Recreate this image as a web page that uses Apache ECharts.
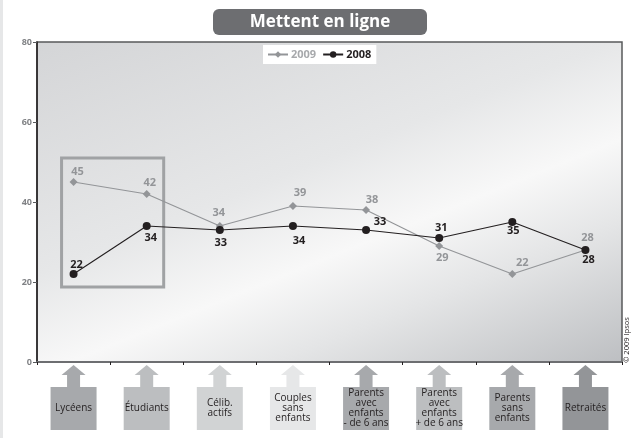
<!DOCTYPE html>
<html>
<head>
<meta charset="utf-8">
<script src="https://cdn.jsdelivr.net/npm/echarts@6/dist/echarts.min.js"></script>
<style>
  html, body { margin: 0; padding: 0; background: #ffffff; }
  #chart { width: 634px; height: 438px; }
</style>
</head>
<body>
<div id="chart"></div>
<script>
// Audience groups (x axis) and the share of each group, per year
const categories = [
  'Lycéens',
  'Étudiants',
  'Célib.\nactifs',
  'Couples\nsans\nenfants',
  'Parents\navec\nenfants\n- de 6 ans',
  'Parents\navec\nenfants\n+ de 6 ans',
  'Parents\nsans\nenfants',
  'Retraités'
];
const values2009 = [45, 42, 34, 39, 38, 29, 22, 28];
const values2008 = [22, 34, 33, 34, 33, 31, 35, 28];
const yTicks = [0, 20, 40, 60, 80];

// Label nudges around each marker, in pixels
const offsets2009 = [[4, -10], [3, -11], [-1, -13], [7, -13], [6, -10], [3, 12], [10, -11], [2, -12]];
const offsets2008 = [[3, -9], [4, 12], [1, 13], [6, 15], [14, -8], [2, -10], [1, 9], [3, 10]];
// Shade of each group's box underneath the axis
const boxColors = ['#a7a9ac', '#bcbec0', '#d1d3d4', '#e6e7e8', '#a7a9ac', '#bcbec0', '#a7a9ac', '#939598'];

const FONT = '"Open Sans", "Noto Sans", sans-serif';
const GREY = '#939598';
const INK = '#231f20';

function points(vals, offs, color) {
  return vals.map((v, i) => ({
    value: v,
    label: {
      show: true,
      position: 'inside',
      offset: offs[i],
      color: color,
      fontFamily: FONT,
      fontWeight: 'bold',
      fontSize: 11
    }
  }));
}

// Arrow + box + caption drawn under each category
function renderGroupBox(params, api) {
  const i = api.value(0);
  const base = api.coord([i, 0]);
  const cx = base[0];
  const ay = base[1];
  const col = boxColors[i];
  const top = ay + 3;
  const head = ay + 13;
  const boxTop = ay + 25;
  return {
    type: 'group',
    silent: true,
    children: [
      {
        type: 'polygon',
        shape: { points: [[cx, top], [cx + 12, head], [cx + 6.5, head], [cx + 6.5, boxTop], [cx - 6.5, boxTop], [cx - 6.5, head], [cx - 12, head]] },
        style: { fill: col }
      },
      {
        type: 'rect',
        shape: { x: cx - 23, y: boxTop, width: 46, height: 43 },
        style: { fill: col }
      },
      {
        type: 'text',
        x: cx, y: boxTop + 21.5,
        style: {
          text: categories[i], fill: INK, font: '10px ' + FONT, lineHeight: 10,
          align: 'center', verticalAlign: 'middle'
        }
      }
    ]
  };
}

const chart = echarts.init(document.getElementById('chart'), null, { renderer: 'canvas' });

const option = {
  animation: false,
  backgroundColor: '#ffffff',
  grid: {
    left: 37, right: 12, top: 42, bottom: 76,
    show: true,
    borderColor: '#58595b',
    borderWidth: 1.5,
    backgroundColor: {
      type: 'linear', x: 0, y: 0, x2: 0.33, y2: 1.49,
      colorStops: [
        { offset: 0, color: '#d4d5d7' },
        { offset: 0.42, color: '#e6e7e8' },
        { offset: 0.6, color: '#f8f8f8' },
        { offset: 0.75, color: '#e4e5e6' },
        { offset: 1, color: '#bdbfc2' }
      ]
    }
  },
  legend: {
    left: 263, top: 45,
    backgroundColor: '#ffffff',
    padding: [4, 5, 4, 4],
    itemWidth: 20, itemHeight: 8, itemGap: 6,
    textStyle: { fontFamily: FONT, fontSize: 11, fontWeight: 'bold', padding: [0, 0, 0, -2] },
    data: [
      { name: '2009', textStyle: { color: '#a7a9ac' } },
      { name: '2008', textStyle: { color: INK } }
    ]
  },
  xAxis: {
    type: 'category',
    data: categories,
    boundaryGap: true,
    axisLine: { show: true, lineStyle: { color: '#6d6e71', width: 2 } },
    axisTick: { show: true, length: 3, interval: 0, lineStyle: { color: INK, width: 1 } },
    axisLabel: { show: false },
    splitLine: { show: false }
  },
  yAxis: {
    type: 'value',
    min: yTicks[0], max: yTicks[yTicks.length - 1], interval: 20,
    axisLine: { show: true, lineStyle: { color: INK, width: 1.5 } },
    axisTick: { show: true, length: 4, lineStyle: { color: '#58595b' } },
    axisLabel: { color: '#808285', fontFamily: FONT, fontSize: 9, fontWeight: 'bold', margin: 5 },
    splitLine: { show: false }
  },
  series: [
    {
      name: '2009',
      type: 'line',
      data: points(values2009, offsets2009, GREY),
      symbol: 'diamond',
      symbolSize: 8,
      itemStyle: { color: GREY },
      lineStyle: { color: GREY, width: 1.1 },
      z: 2
    },
    {
      name: '2008',
      type: 'line',
      data: points(values2008, offsets2008, INK),
      symbol: 'circle',
      symbolSize: 8,
      itemStyle: { color: INK },
      lineStyle: { color: INK, width: 1.1 },
      z: 3
    },
    {
      name: 'groups',
      type: 'custom',
      data: categories.map((c, i) => [i]),
      encode: { x: 0 },
      clip: false,
      renderItem: renderGroupBox,
      z: 1
    }
  ]
};

chart.setOption(option);

// Title badge, highlight frame, side strip and credit line
function buildGraphics() {
  const g = [];
  g.push({ type: 'rect', shape: { x: 0, y: 0, width: 3, height: 438 }, style: { fill: '#e6e7e8' }, silent: true });
  g.push({
    type: 'rect', shape: { x: 213, y: 9, width: 214, height: 26, r: 6 },
    style: { fill: '#6d6e71' }, silent: true
  });
  g.push({
    type: 'text', x: 320, y: 22,
    style: { text: 'Mettent en ligne', fill: '#ffffff', font: 'bold 17px ' + FONT, align: 'center', verticalAlign: 'middle' },
    silent: true
  });
  const p0 = chart.convertToPixel({ xAxisIndex: 0, yAxisIndex: 0 }, [0, 51]);
  const p1 = chart.convertToPixel({ xAxisIndex: 0, yAxisIndex: 0 }, [1, 18.75]);
  g.push({
    type: 'rect',
    shape: { x: p0[0] - 12, y: p0[1], width: (p1[0] + 17) - (p0[0] - 12), height: p1[1] - p0[1] },
    style: { fill: 'none', stroke: '#a0a2a4', lineWidth: 3 },
    z: 1, silent: true
  });
  g.push({
    type: 'text', x: 627, y: 340, rotation: Math.PI / 2,
    style: { text: '© 2009 Ipsos', fill: INK, font: '7.5px ' + FONT, align: 'center', verticalAlign: 'middle' },
    silent: true
  });
  return g;
}

chart.setOption({ graphic: buildGraphics() });
</script>
</body>
</html>
